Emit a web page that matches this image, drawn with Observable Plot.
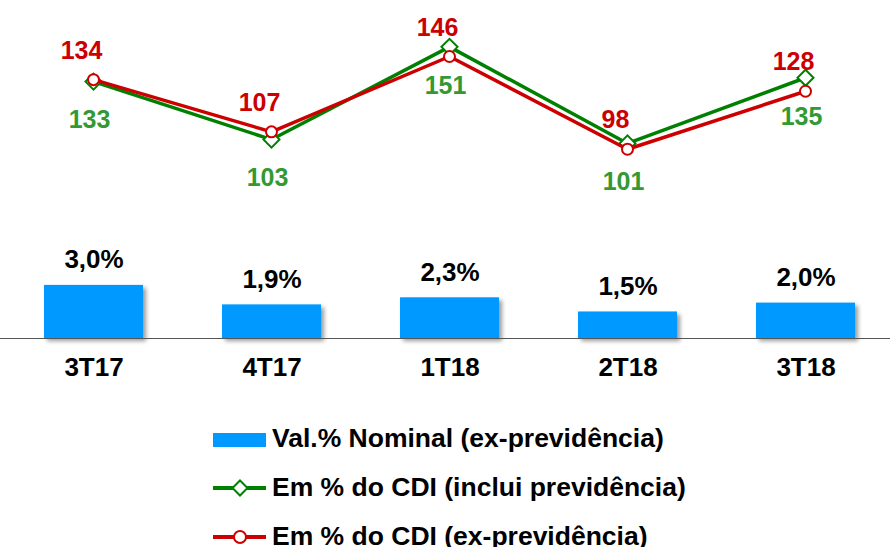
<!DOCTYPE html>
<html><head><meta charset="utf-8">
<script src="https://cdn.jsdelivr.net/npm/d3@7"></script>
<script src="https://cdn.jsdelivr.net/npm/@observablehq/plot@0.6"></script>
<style>
html,body{margin:0;padding:0;background:#fff;}
#chart{position:relative;width:890px;height:547px;overflow:hidden;font-family:"Liberation Sans",Arial,sans-serif;}
#chart svg.layer{position:absolute;left:0;top:0;}
#legend{position:absolute;left:0;top:414px;}
.row{display:flex;align-items:center;height:49px;}
.row svg{margin-left:213px;margin-right:6px;display:block;}
.row span{font-weight:bold;font-size:26.5px;color:#000;white-space:nowrap;line-height:normal;}
</style></head><body>
<div id="chart"></div>
<script>
// ---- data ----
const periods = ["3T17", "4T17", "1T18", "2T18", "3T18"];
const nominalPct = [3.0, 1.9, 2.3, 1.5, 2.0];
const nominalLabels = ["3,0%", "1,9%", "2,3%", "1,5%", "2,0%"];
const cdiInclPrev = [133, 103, 151, 101, 135];
const cdiExPrev = [134, 107, 146, 98, 128];
const seriesNames = ["Val.% Nominal (ex-previdência)", "Em % do CDI (inclui previdência)", "Em % do CDI (ex-previdência)"];

const rows = periods.map((p, i) => ({period: p, nominal: nominalPct[i], label: nominalLabels[i], incl: cdiInclPrev[i], ex: cdiExPrev[i]}));

const BLUE = "#0099ff", GREEN = "#008000", GREEN_TXT = "#339933", RED = "#cc0000";
const FONT = "'Liberation Sans', Arial, sans-serif";
const W = 890, H = 410, MB = 72;
const xRange = [3.4, 894.6];

const diamondSym = {draw(ctx, size) { const r = Math.sqrt(size / 2); ctx.moveTo(0, -r); ctx.lineTo(r, 0); ctx.lineTo(0, r); ctx.lineTo(-r, 0); ctx.closePath(); }};

const common = {width: W, height: H, marginTop: 0, marginBottom: MB, marginLeft: 0, marginRight: 0,
  style: {fontFamily: FONT, background: "transparent", color: "#000", overflow: "visible"}};

const plotA = Plot.plot({
  ...common,
  x: {type: "band", domain: periods, range: xRange, paddingInner: 0.444, paddingOuter: 0.222, label: null},
  y: {domain: [0, 19.1], axis: null},
  marks: [
    Plot.barY(rows, {x: "period", y: "nominal", fill: BLUE}),
    Plot.ruleY([0], {stroke: "#555", strokeWidth: 1.2}),
    Plot.text(rows, {x: "period", y: "nominal", text: "label", lineAnchor: "bottom", dy: -17, fontSize: 26, fontWeight: "bold", fill: "#000"}),
    Plot.axisX({tickSize: 0, tickPadding: 19, fontSize: 26, fontWeight: "bold", label: null, fill: "#000"})
  ]
});

const plotB = Plot.plot({
  ...common,
  x: {type: "point", domain: periods, range: xRange, padding: 0.5, axis: null},
  y: {domain: [0, 175], axis: null},
  marks: [
    Plot.line(rows, {x: "period", y: "incl", stroke: GREEN, strokeWidth: 3.5}),
    Plot.dot(rows, {x: "period", y: "incl", symbol: diamondSym, r: 6.4, stroke: GREEN, strokeWidth: 2, fill: "#fff"}),
    Plot.line(rows, {x: "period", y: "ex", stroke: RED, strokeWidth: 3.5}),
    Plot.dot(rows, {x: "period", y: "ex", r: 5.5, stroke: RED, strokeWidth: 2, fill: "#fff"}),
    Plot.text(rows, {x: "period", y: "ex", text: d => String(d.ex), lineAnchor: "bottom", dy: -21, dx: -12, fontSize: 25, fontWeight: "bold", fill: RED}),
    Plot.text(rows, {x: "period", y: "incl", text: d => String(d.incl), lineAnchor: "top", dy: 29, dx: -4, fontSize: 25, fontWeight: "bold", fill: GREEN_TXT})
  ]
});

plotA.classList.add("layer");
plotB.classList.add("layer");
const barG = plotA.querySelector('g[aria-label="bar"]');
if (barG) barG.style.filter = "drop-shadow(3px 3px 2px rgba(0,0,0,0.4))";

const chart = document.getElementById("chart");
chart.appendChild(plotA);
chart.appendChild(plotB);

// ---- legend ----
const legend = document.createElement("div");
legend.id = "legend";
const swatches = [
  `<rect x="0" y="4" width="53" height="14" fill="${BLUE}"/>`,
  `<line x1="0" x2="53" y1="10" y2="10" stroke="${GREEN}" stroke-width="4"/><path d="M27 2.5 L34.5 10 L27 17.5 L19.5 10 Z" fill="#fff" stroke="${GREEN}" stroke-width="2"/>`,
  `<line x1="0" x2="53" y1="10" y2="10" stroke="${RED}" stroke-width="4"/><circle cx="27" cy="10" r="6" fill="#fff" stroke="${RED}" stroke-width="2"/>`
];
seriesNames.forEach((name, i) => {
  const row = document.createElement("div");
  row.className = "row";
  row.innerHTML = `<svg width="53" height="20">${swatches[i]}</svg><span>${name}</span>`;
  legend.appendChild(row);
});
chart.appendChild(legend);
</script>
</body></html>
